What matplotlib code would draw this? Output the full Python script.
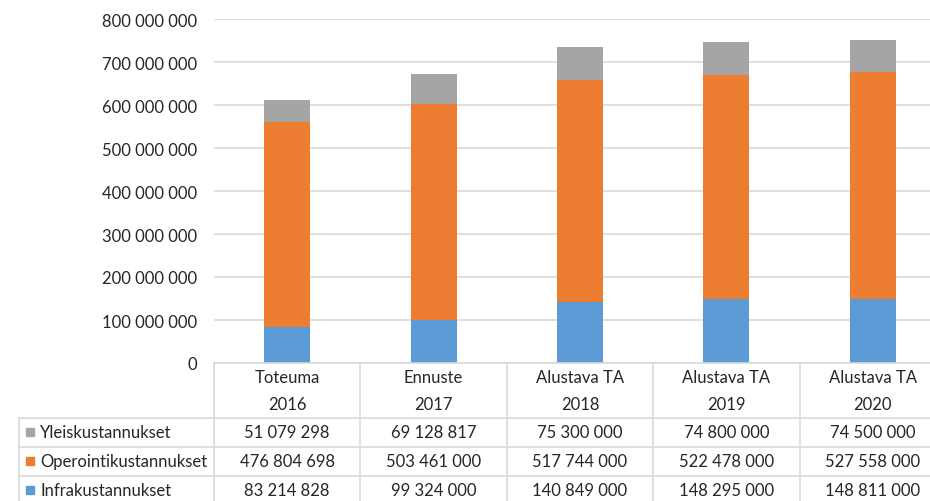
import matplotlib
matplotlib.use("Agg")
import matplotlib.pyplot as plt
from matplotlib.ticker import FuncFormatter, MultipleLocator
from matplotlib.transforms import blended_transform_factory
from matplotlib.lines import Line2D
from matplotlib.patches import Rectangle

categories_top = ["Toteuma", "Ennuste", "Alustava TA", "Alustava TA", "Alustava TA"]
years = ["2016", "2017", "2018", "2019", "2020"]
series_names = ["Yleiskustannukset", "Operointikustannukset", "Infrakustannukset"]
yleis = [51079298, 69128817, 75300000, 74800000, 74500000]
operointi = [476804698, 503461000, 517744000, 522478000, 527558000]
infra = [83214828, 99324000, 140849000, 148295000, 148811000]
colors = {"Yleiskustannukset": "#A5A5A5", "Operointikustannukset": "#ED7D31", "Infrakustannukset": "#5B9BD5"}

plt.rcParams['font.family'] = ['Liberation Sans Narrow', 'Lato', 'DejaVu Sans']
TXT = '#262626'
GRID = '#D9D9D9'

W, H = 930, 502
fig = plt.figure(figsize=(9.3, 5.02), dpi=100)
ax = fig.add_axes([214 / W, (H - 364) / H, 732 / W, 344 / H])

def fmt(v, pos=None):
    return f"{int(v):,}".replace(",", " ")

x = list(range(len(years)))
bw = 0.315
ax.bar(x, infra, bw, color=colors["Infrakustannukset"], zorder=3)
ax.bar(x, operointi, bw, bottom=infra, color=colors["Operointikustannukset"], zorder=3)
bottom2 = [a + b for a, b in zip(infra, operointi)]
ax.bar(x, yleis, bw, bottom=bottom2, color=colors["Yleiskustannukset"], zorder=3)

ax.set_xlim(-0.5, len(years) - 0.5)
ax.set_ylim(0, 800_000_000)
ax.yaxis.set_major_locator(MultipleLocator(100_000_000))
ax.yaxis.set_major_formatter(FuncFormatter(fmt))
ax.grid(axis='y', color=GRID, linewidth=1.2, zorder=0)
ax.tick_params(axis='y', length=0, pad=12.5, labelsize=12, labelcolor=TXT)
ax.set_xticks([])
for s in ax.spines.values():
    s.set_visible(False)

# table
tr = blended_transform_factory(ax.transData, fig.transFigure)
def fy(ypx):
    return 1 - ypx / H
def fx(xpx):
    return xpx / W

lw = 1.2
# horizontal lines
fig.add_artist(Line2D([fx(214), 1.0], [fy(364), fy(364)], color=GRID, lw=lw))
for yy in [419, 448, 477]:
    fig.add_artist(Line2D([fx(19), 1.0], [fy(yy), fy(yy)], color=GRID, lw=lw))
# vertical lines
for i in range(len(years)):
    xb = i - 0.5
    fig.add_artist(Line2D([xb, xb], [fy(364), 0], color=GRID, lw=lw, transform=tr))
fig.add_artist(Line2D([fx(19), fx(19)], [fy(419), 0], color=GRID, lw=lw))

fs = 12
for i in x:
    fig.text(i, fy(378), categories_top[i], transform=tr, ha='center', va='center', fontsize=fs, color=TXT)
    fig.text(i, fy(405), years[i], transform=tr, ha='center', va='center', fontsize=fs, color=TXT)

rows = [("Yleiskustannukset", yleis, 433), ("Operointikustannukset", operointi, 462), ("Infrakustannukset", infra, 491)]
for name, vals, yy in rows:
    fig.add_artist(Rectangle((fx(26), fy(yy + 4)), 8 / W, 8 / H, color=colors[name], transform=fig.transFigure))
    fig.text(fx(40), fy(yy), name, ha='left', va='center', fontsize=fs, color=TXT)
    for i, v in enumerate(vals):
        fig.text(i, fy(yy), fmt(v), transform=tr, ha='center', va='center', fontsize=fs, color=TXT)

fig.savefig("out.png", dpi=100)
